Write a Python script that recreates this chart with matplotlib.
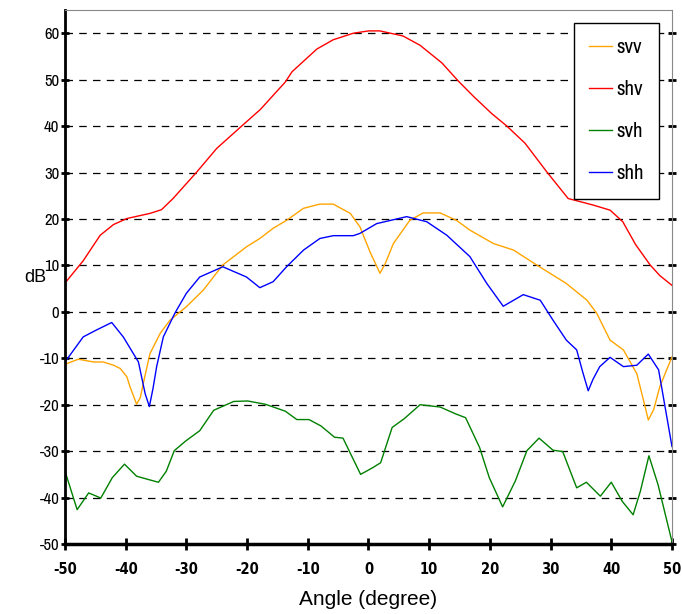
import matplotlib
matplotlib.use('Agg')
import matplotlib.pyplot as plt

# data
svv_x = [-50, -47.8, -45.3, -43.7, -42, -40.9, -39.8, -39.3, -38.2, -37.6, -37.1, -36, -34.3, -32.7, -30, -27.2, -24,
         -20.1, -17.9, -15.7, -13.5, -10.7, -8, -5.8, -3, -1.4, 0.25, 1.9, 2.8, 4.1, 6.8, 9, 11.8, 14.5,
         16.7, 20.6, 23.9, 27.7, 32.6, 36, 37.6, 39.8, 42, 44.2, 45.3, 46.1, 47, 48, 50]
svv_y = [-11.3, -10.2, -10.8, -10.8, -11.5, -12.2, -14, -16.1, -19.9, -18.5, -15.4, -9, -4.6, -1.8, 1.1, 4.7, 10.1,
         14, 15.8, 18, 19.7, 22.3, 23.2, 23.2, 21.2, 18.3, 12.9, 8.3, 10.5, 14.7, 19.7, 21.3, 21.3, 19.7,
         17.6, 14.7, 13.3, 10.1, 6.1, 2.5, -0.3, -6.1, -8.2, -13.3, -19, -23.3, -21, -16.1, -9.7]

shv_x = [-50, -47, -44.2, -42, -39.8, -36, -34.1, -32.2, -28.3, -25, -20.9, -17.8, -13.7, -12.6,
         -8.5, -5.8, -2.5, 0, 1.9, 5.7, 8.5, 12.1, 14.8, 17.3, 20.3, 22.8, 25.8, 29.4, 32.9, 37,
         39.8, 41.9, 44, 46.4, 48, 50]
shv_y = [6.2, 11, 16.5, 18.8, 20.1, 21.2, 22, 24.4, 30.1, 35.2, 40, 43.6, 49.5, 51.7,
         56.6, 58.6, 60, 60.5, 60.5, 59.4, 57.4, 53.6, 49.7, 46.4, 42.7, 40, 36.3, 30.1, 24.4, 23,
         21.9, 19.4, 14.5, 10.1, 7.8, 5.7]

svh_x = [-50, -48.0, -46.1, -44.1, -42.2, -40.2, -38.2, -36.3, -34.6, -33.3, -32.0, -30.1, -27.8,
         -25.5, -22.2, -19.9, -17.0, -13.7, -11.8, -9.8, -7.8, -5.6, -4.2, -2.9, -1.3, 0.65, 2.0,
         3.9, 5.9, 8.5, 11.8, 14.4, 16.0, 18.3, 19.9, 22.1, 24.2, 26.1, 28.1, 30.4, 32.0, 34.3,
         35.9, 38.2, 40.0, 41.8, 43.6, 44.8, 46.2, 47.7, 50.0]
svh_y = [-34.3, -42.6, -39.0, -40.1, -35.7, -32.8, -35.4, -36.1, -36.7, -34.3, -29.9, -27.8, -25.6,
         -21.2, -19.3, -19.2, -19.9, -21.4, -23.2, -23.2, -24.6, -27.0, -27.2, -30.7, -35.0, -33.6,
         -32.5, -24.9, -23.0, -20.0, -20.5, -22.0, -22.8, -29.2, -35.7, -42.0, -36.4, -29.9, -27.2,
         -29.8, -30.1, -37.9, -36.7, -39.7, -36.7, -40.8, -43.7, -38.6, -31.0, -37.2, -49.5]

shh_x = [-50, -47, -44.8, -42.3, -40.4, -37.9, -36.8, -36.1, -35.5, -34.9, -33.8, -31.9, -30, -27.8, -24,
         -20.1, -17.9, -15.7, -13.5, -10.7, -8, -5.8, -2.5, -1.4, 1.35, 6.3, 9.6, 12.9, 16.7, 19.5,
         22.2, 25.5, 28.3, 30.4, 32.6, 34.3, 35.3, 36.2, 37, 38.1, 39.8, 42, 44.2, 46.1, 47.8, 50]
shh_y = [-10.8, -5.4, -3.9, -2.3, -5.4, -10.8, -17.6, -20.4, -16.5, -11.8, -5.4, -0.3, 4, 7.5, 9.7,
         7.5, 5.2, 6.5, 9.7, 13.3, 15.8, 16.4, 16.4, 16.9, 19, 20.5, 19.4, 16.5, 11.9, 6.1,
         1.2, 3.7, 2.5, -1.8, -6.1, -8.2, -13, -17, -14.5, -11.8, -9.8, -11.8, -11.5, -9.1, -12.5, -29]

x_ticks = list(range(-50, 51, 10))
y_ticks = list(range(-50, 61, 10))

narrow = ['Archivo Narrow', 'DejaVu Sans']

fig = plt.figure(figsize=(6.82, 6.14), dpi=100)
ax = fig.add_axes([0.0953, 0.114, 0.89, 0.8697])

ax.plot(svv_x, svv_y, color='#ffa500', lw=1, label='svv')
ax.plot(shv_x, shv_y, color='#ff0000', lw=1, label='shv')
ax.plot(svh_x, svh_y, color='#008000', lw=1, label='svh')
ax.plot(shh_x, shh_y, color='#0000ff', lw=1, label='shh')

ax.set_xlim(-50, 50)
ax.set_ylim(-50, 65)
ax.set_xticks(x_ticks)
ax.set_yticks(y_ticks)
ax.set_xticklabels([str(t) for t in x_ticks], family='DejaVu Sans', stretch='condensed',
                   fontsize=10.5, fontweight='bold')
ax.set_yticklabels([str(t) for t in y_ticks], family=narrow, fontsize=12)

for t in y_ticks[1:]:
    ax.axhline(t, color='black', lw=0.9, ls=(0, (6, 5)), zorder=0)

ax.spines['left'].set_linewidth(2)
ax.spines['bottom'].set_linewidth(2.5)
ax.spines['top'].set_color('#888888')
ax.spines['right'].set_color('#888888')
ax.tick_params(axis='y', direction='inout', length=6, width=2, pad=1, right=True)
ax.tick_params(axis='x', direction='inout', length=8, width=2, pad=9)

ax.set_xlabel('Angle (degree)', family=['Liberation Sans', 'DejaVu Sans'], fontsize=15, labelpad=9)
ax.set_ylabel('dB', family=['Liberation Sans', 'DejaVu Sans'], fontsize=13, rotation=0,
              labelpad=3, va='center')

leg = ax.legend(loc='upper right', bbox_to_anchor=(1, 1), borderaxespad=0.6,
                prop={'family': narrow, 'size': 15},
                handlelength=1.1, handletextpad=0.2, labelspacing=1.1, borderpad=0.75,
                fancybox=False, edgecolor='black', framealpha=1)
leg.get_frame().set_linewidth(1)

plt.savefig('out.png', dpi=100)
